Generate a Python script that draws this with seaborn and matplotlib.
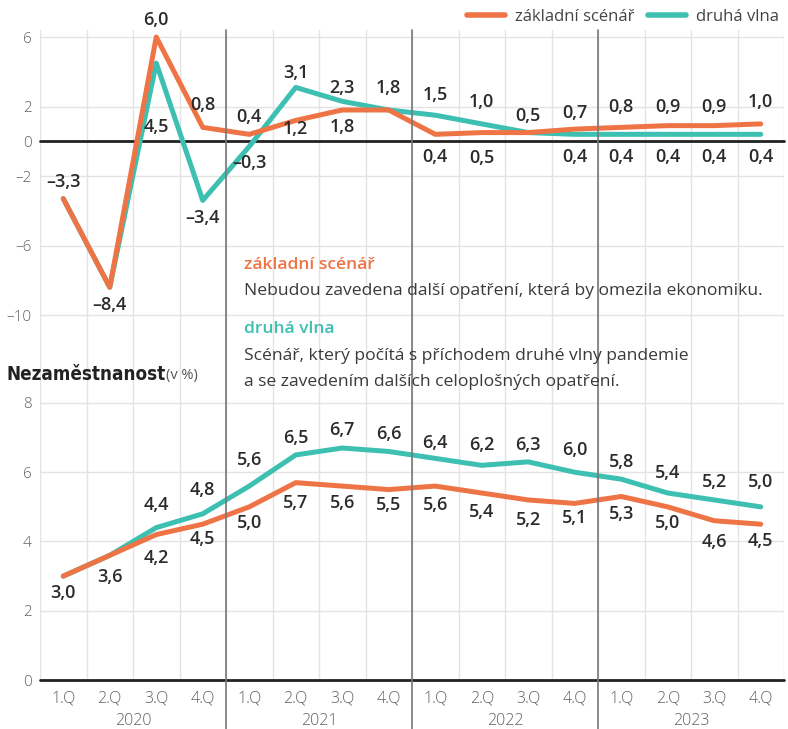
import numpy as np
import pandas as pd
import matplotlib
matplotlib.use("Agg")
import matplotlib.pyplot as plt
import matplotlib.transforms as mtransforms
from matplotlib.lines import Line2D
import seaborn as sns

# ---------------- data ----------------
quarters = ["1.Q", "2.Q", "3.Q", "4.Q"] * 4
years = ["2020", "2021", "2022", "2023"]
series_names = ["základní scénář", "druhá vlna"]

gdp_base = [-3.3, -8.4, 6.0, 0.8, 0.4, 1.2, 1.8, 1.8, 0.4, 0.5, 0.5, 0.7, 0.8, 0.9, 0.9, 1.0]
gdp_wave = [-3.3, -8.4, 4.5, -3.4, -0.3, 3.1, 2.3, 1.8, 1.5, 1.0, 0.5, 0.4, 0.4, 0.4, 0.4, 0.4]
unemp_base = [3.0, 3.6, 4.2, 4.5, 5.0, 5.7, 5.6, 5.5, 5.6, 5.4, 5.2, 5.1, 5.3, 5.0, 4.6, 4.5]
unemp_wave = [3.0, 3.6, 4.4, 4.8, 5.6, 6.5, 6.7, 6.6, 6.4, 6.2, 6.3, 6.0, 5.8, 5.4, 5.2, 5.0]

gdp_ticks = [6, 2, 0, -2, -6, -10]
unemp_ticks = [0, 2, 4, 6, 8]

# label vertical offsets (pixels, None = no label) -- styling only
gdp_base_dy = [17, -18, 17, 22, 17, -9, -17, 22, -23, -25, 17, 16, 20, 19, 19, 22]
gdp_wave_dy = [None, None, -64, -18, -17, 14, 13, None, 20, 22, None, -23, -23, -23, -23, -23]
unemp_base_dy = [-17, -22, -23, -15, -16, -20, -17, -15, -19, -19, -20, -15, -18, -16, -21, -17]
unemp_wave_dy = [None, None, 23, 24, 26, 17, 18, 17, 15, 20, 17, 22, 17, 20, 18, 25]

ORANGE = "#EE7446"
TEAL = "#3DBFB1"
TXT = "#2b2b2b"
GRID = "#e3e3e3"
TICK = "#606060"

sns.set_theme(style="white")
plt.rcParams["font.family"] = ["Open Sans", "DejaVu Sans"]

idx = np.arange(len(quarters))
gdp_df = pd.DataFrame({
    "idx": np.concatenate([idx, idx]),
    "value": gdp_base + gdp_wave,
    "scenario": [series_names[0]] * len(idx) + [series_names[1]] * len(idx),
})
un_df = pd.DataFrame({
    "idx": np.concatenate([idx, idx]),
    "value": unemp_base + unemp_wave,
    "scenario": [series_names[0]] * len(idx) + [series_names[1]] * len(idx),
})

W_PX, H_PX = 788, 729
fig = plt.figure(figsize=(W_PX / 100, H_PX / 100), dpi=100)
L = 40 / W_PX
Wd = 744 / W_PX

ax1 = fig.add_axes([L, 1 - 395 / H_PX, Wd, 365 / H_PX])
ax2 = fig.add_axes([L, 1 - 680 / H_PX, Wd, 285 / H_PX])

palette = {series_names[0]: ORANGE, series_names[1]: TEAL}
hue_order = [series_names[1], series_names[0]]

for ax, df in [(ax1, gdp_df), (ax2, un_df)]:
    sns.lineplot(data=df, x="idx", y="value", hue="scenario", hue_order=hue_order,
                 palette=palette, linewidth=3.6, ax=ax, legend=False, zorder=3)
    ax.set_xlim(-0.5, len(quarters) - 0.5)
    ax.set_xlabel("")
    ax.set_ylabel("")
    for s in ax.spines.values():
        s.set_visible(False)
    ax.set_xticks(np.arange(-0.5, len(quarters), 1.0), minor=True)
    ax.grid(which="minor", axis="x", color=GRID, linewidth=1.0, zorder=0)
    ax.grid(which="major", axis="x", visible=False)
    ax.grid(which="major", axis="y", color=GRID, linewidth=1.0, zorder=0)
    ax.axhline(0, color="#222222", linewidth=2.0, zorder=2, clip_on=False)
    ax.tick_params(axis="both", which="both", length=0, pad=6)
    ax.set_facecolor("none")


def fmt(v):
    s = f"{abs(v):.1f}".replace(".", ",")
    return ("–" + s) if v < 0 else s


def ylab(v):
    return ("–" + str(abs(v))) if v < 0 else str(v)


# top axes
ax1.set_ylim(-14.60, 6.403)
ax1.set_yticks(gdp_ticks)
ax1.set_yticklabels([ylab(v) for v in gdp_ticks], fontsize=11, color=TICK, fontweight="light")
ax1.set_xticks(idx)
ax1.set_xticklabels([])
ax1.grid(which="major", axis="x", visible=False)

# bottom axes
ax2.set_ylim(0, 8.231)
ax2.set_yticks(unemp_ticks)
ax2.set_yticklabels([ylab(v) for v in unemp_ticks], fontsize=11, color=TICK, fontweight="light")
ax2.set_xticks(idx)
ax2.set_xticklabels(quarters, fontsize=11.5, color=TICK, fontweight="light", va="center")
ax2.grid(which="major", axis="x", visible=False)
ax2.tick_params(axis="x", pad=13)
trans = mtransforms.blended_transform_factory(ax2.transData, ax2.transAxes)
for k, y in enumerate(years):
    ax2.text(4 * k + 1.5, -41 / 285, y, transform=trans, ha="center", va="center",
             fontsize=11.5, color=TICK, fontweight="light")

# data labels
for ax, vals, dys in [(ax1, gdp_base, gdp_base_dy), (ax1, gdp_wave, gdp_wave_dy),
                      (ax2, unemp_base, unemp_base_dy), (ax2, unemp_wave, unemp_wave_dy)]:
    for i, (v, dy) in enumerate(zip(vals, dys)):
        if dy is None:
            continue
        ax.annotate(fmt(v), (i, v), xytext=(0, dy), textcoords="offset pixels",
                    ha="center", va="center", fontsize=13, fontweight="semibold",
                    color=TXT, zorder=5)

# year separators through whole figure
for k in range(1, len(years)):
    xf = L + Wd * (4 * k) / len(quarters)
    fig.add_artist(Line2D([xf, xf], [0, 1 - 30 / H_PX], transform=fig.transFigure,
                          color="#777777", linewidth=1.2, zorder=1))

# legend
handles = [Line2D([], [], color=ORANGE, lw=4), Line2D([], [], color=TEAL, lw=4)]
fig.legend(handles, series_names, loc="center right", bbox_to_anchor=(1.008, 1 - 17 / H_PX),
           ncol=2, frameon=False, handlelength=2.3, columnspacing=0.8, handletextpad=0.6,
           fontsize=12, labelcolor="#444444")

# explanatory text block
def fx(px):
    return px / W_PX


def fy(py):
    return 1 - py / H_PX


ANN = 12.6
fig.text(fx(244), fy(265), "základní scénář", color=ORANGE, fontsize=ANN,
         fontweight="semibold", va="center", ha="left")
fig.text(fx(244), fy(291), "Nebudou zavedena další opatření, která by omezila ekonomiku.",
         color="#3a3a3a", fontsize=ANN, va="center", ha="left")
fig.text(fx(244), fy(329), "druhá vlna", color=TEAL, fontsize=ANN,
         fontweight="semibold", va="center", ha="left")
fig.text(fx(244), fy(356), "Scénář, který počítá s příchodem druhé vlny pandemie",
         color="#3a3a3a", fontsize=ANN, va="center", ha="left")
fig.text(fx(244), fy(382), "a se zavedením dalších celoplošných opatření.",
         color="#3a3a3a", fontsize=ANN, va="center", ha="left")

fig.text(fx(7), fy(374), "Nezaměstnanost", color="#222222", fontsize=13.5,
         fontweight="bold", va="center", ha="left", fontstretch="condensed",
         family=["DejaVu Sans"])
fig.text(fx(166), fy(376), "(v %)", color="#555555", fontsize=10.5, va="center", ha="left")

fig.savefig("out.png", dpi=100)
